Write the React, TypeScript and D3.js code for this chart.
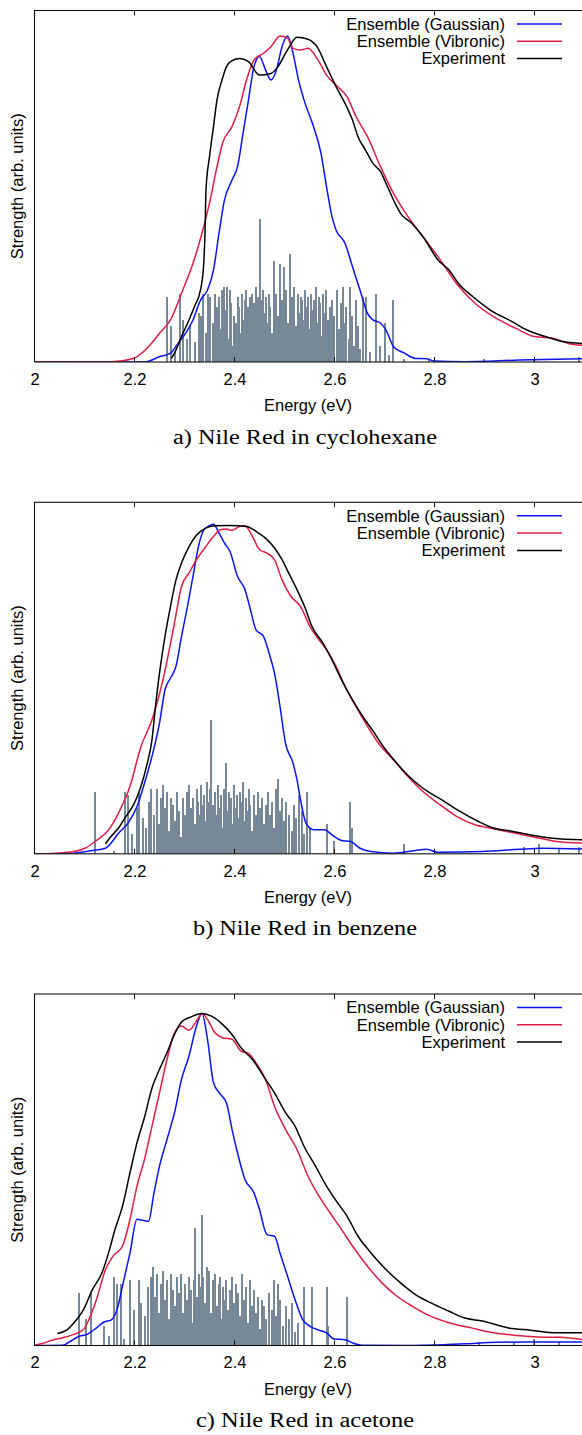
import React from "react";
import * as d3 from "d3";

// ---------- data ----------
const energyTicks = [2, 2.2, 2.4, 2.6, 2.8, 3];
const legendLabels = ["Ensemble (Gaussian)", "Ensemble (Vibronic)", "Experiment"];
const seriesColors = ["#0a14f0", "#dc1e46", "#000000"];
const captions = ["a) Nile Red in cyclohexane", "b) Nile Red in benzene", "c) Nile Red in acetone"];

type P = [number, number];

// Panel a: cyclohexane
const cycloGaussian: P[] = [
  [2.0, 0], [2.221, 0], [2.251, 0.016], [2.273, 0.027], [2.288, 0.057], [2.303, 0.088], [2.318, 0.129],
  [2.333, 0.19], [2.347, 0.221], [2.359, 0.282], [2.37, 0.395], [2.381, 0.497], [2.396, 0.558], [2.407, 0.599],
  [2.418, 0.701], [2.429, 0.804], [2.44, 0.906], [2.451, 0.937], [2.463, 0.896], [2.474, 0.865], [2.485, 0.896],
  [2.496, 0.967], [2.507, 1.0], [2.518, 0.947], [2.529, 0.865], [2.54, 0.804], [2.559, 0.722], [2.574, 0.64],
  [2.585, 0.538], [2.596, 0.446], [2.604, 0.405], [2.622, 0.364], [2.637, 0.292], [2.652, 0.221], [2.667, 0.149],
  [2.678, 0.129], [2.693, 0.119], [2.704, 0.098], [2.719, 0.047], [2.741, 0.027], [2.763, 0.011], [2.785, 0.01],
  [2.8, 0.003], [2.86, 0.001], [2.971, 0.006], [3.096, 0.01],
];
const cycloVibronic: P[] = [
  [2.0, 0], [2.154, 0.001], [2.199, 0.011], [2.229, 0.047], [2.251, 0.088], [2.273, 0.129], [2.295, 0.211],
  [2.318, 0.303], [2.336, 0.395], [2.351, 0.487], [2.366, 0.599], [2.377, 0.671], [2.396, 0.722], [2.411, 0.783],
  [2.425, 0.865], [2.44, 0.926], [2.459, 0.947], [2.474, 0.967], [2.492, 1.0], [2.507, 0.993], [2.518, 0.962],
  [2.533, 0.957], [2.548, 0.962], [2.566, 0.931], [2.585, 0.88], [2.607, 0.845], [2.626, 0.814], [2.644, 0.753],
  [2.667, 0.691], [2.693, 0.599], [2.719, 0.517], [2.748, 0.446], [2.778, 0.384], [2.808, 0.323], [2.845, 0.241],
  [2.882, 0.18], [2.919, 0.139], [2.964, 0.103], [3.001, 0.078], [3.038, 0.073], [3.068, 0.057], [3.096, 0.051],
];
const cycloExperiment: P[] = [
  [2.275, 0.011], [2.284, 0.037], [2.295, 0.078], [2.31, 0.129], [2.321, 0.17], [2.333, 0.221], [2.339, 0.292],
  [2.342, 0.395], [2.344, 0.528], [2.351, 0.63], [2.359, 0.722], [2.366, 0.804], [2.376, 0.865], [2.385, 0.906],
  [2.393, 0.921], [2.411, 0.931], [2.429, 0.921], [2.451, 0.88], [2.474, 0.885], [2.488, 0.906], [2.507, 0.957],
  [2.526, 0.996], [2.548, 0.99], [2.566, 0.967], [2.585, 0.906], [2.604, 0.845], [2.622, 0.793], [2.637, 0.742],
  [2.648, 0.691], [2.663, 0.65], [2.678, 0.609], [2.693, 0.584], [2.707, 0.538], [2.722, 0.487], [2.733, 0.456],
  [2.756, 0.425], [2.778, 0.384], [2.808, 0.313], [2.83, 0.282], [2.849, 0.241], [2.878, 0.2], [2.912, 0.16],
  [2.956, 0.124], [2.986, 0.098], [3.023, 0.078], [3.06, 0.062], [3.096, 0.057],
];
const cycloStickE = [
  2.266, 2.275, 2.283, 2.292, 2.298, 2.306, 2.312, 2.321, 2.329, 2.333, 2.339, 2.344, 2.348, 2.352, 2.357, 2.361,
  2.365, 2.369, 2.372, 2.376, 2.38, 2.383, 2.386, 2.389, 2.392, 2.395, 2.398, 2.401, 2.404, 2.407, 2.41, 2.413,
  2.416, 2.419, 2.422, 2.425, 2.428, 2.431, 2.434, 2.437, 2.44, 2.443, 2.446, 2.449, 2.452, 2.455, 2.458, 2.461,
  2.464, 2.467, 2.47, 2.473, 2.476, 2.479, 2.482, 2.485, 2.488, 2.492, 2.495, 2.499, 2.502, 2.505, 2.508, 2.512,
  2.515, 2.518, 2.521, 2.524, 2.527, 2.53, 2.533, 2.536, 2.539, 2.542, 2.545, 2.548, 2.551, 2.554, 2.557, 2.56,
  2.563, 2.566, 2.569, 2.572, 2.575, 2.578, 2.581, 2.584, 2.588, 2.591, 2.594, 2.597, 2.601, 2.605, 2.609, 2.613,
  2.617, 2.621, 2.625, 2.629, 2.632, 2.636, 2.64, 2.644, 2.648, 2.652, 2.657, 2.665, 2.672, 2.685, 2.692, 2.703,
  2.71, 2.717, 2.74, 2.79, 2.9, 3.0, 3.09,
];
const cycloStickH = [
  0.2, 0.11, 0.03, 0.21, 0.13, 0.07, 0.11, 0.06, 0.15, 0.14, 0.21, 0.09, 0.21, 0.2, 0.12, 0.21,
  0.17, 0.2, 0.1, 0.22, 0.23, 0.16, 0.23, 0.07, 0.22, 0.18, 0.05, 0.14, 0.12, 0.2, 0.17, 0.09,
  0.21, 0.13, 0.19, 0.22, 0.17, 0.2, 0.14, 0.21, 0.18, 0.23, 0.16, 0.2, 0.44, 0.19, 0.22, 0.15,
  0.2, 0.12, 0.21, 0.17, 0.09, 0.31, 0.18, 0.21, 0.14, 0.3, 0.19, 0.29, 0.16, 0.22, 0.12, 0.33,
  0.2, 0.17, 0.23, 0.11, 0.21, 0.15, 0.2, 0.19, 0.13, 0.22, 0.17, 0.2, 0.1, 0.21, 0.16, 0.19,
  0.23, 0.12, 0.2, 0.18, 0.08, 0.21, 0.15, 0.22, 0.13, 0.17, 0.06, 0.19, 0.14, 0.22, 0.1, 0.18,
  0.23, 0.12, 0.17, 0.07, 0.23, 0.14, 0.05, 0.19, 0.11, 0.04, 0.2, 0.2, 0.03, 0.21, 0.05, 0.12,
  0.02, 0.19, 0.01, 0.01, 0.01, 0.01, 0.015,
];

// Panel b: benzene
const benzGaussian: P[] = [
  [2.0, 0], [2.08, 0.002], [2.117, 0.01], [2.143, 0.017], [2.154, 0.033], [2.169, 0.063], [2.188, 0.094],
  [2.206, 0.145], [2.221, 0.217], [2.236, 0.299], [2.251, 0.401], [2.262, 0.503], [2.273, 0.539], [2.284, 0.575],
  [2.295, 0.667], [2.307, 0.759], [2.318, 0.851], [2.329, 0.943], [2.34, 0.994], [2.351, 1.006], [2.359, 1.011],
  [2.37, 0.984], [2.381, 0.953], [2.392, 0.927], [2.407, 0.851], [2.422, 0.81], [2.433, 0.748], [2.444, 0.687],
  [2.459, 0.667], [2.47, 0.616], [2.481, 0.554], [2.492, 0.452], [2.503, 0.339], [2.518, 0.278], [2.526, 0.227],
  [2.533, 0.166], [2.544, 0.094], [2.559, 0.074], [2.581, 0.074], [2.596, 0.058], [2.615, 0.041], [2.633, 0.038],
  [2.652, 0.017], [2.674, 0.007], [2.719, 0.002], [2.763, 0.01], [2.785, 0.014], [2.808, 0.005], [2.897, 0.007],
  [2.971, 0.014], [3.016, 0.017], [3.096, 0.015],
];
const benzVibronic: P[] = [
  [2.0, 0], [2.043, 0.002], [2.08, 0.007], [2.102, 0.017], [2.125, 0.041], [2.147, 0.069], [2.169, 0.125],
  [2.192, 0.207], [2.214, 0.329], [2.236, 0.411], [2.258, 0.534], [2.281, 0.708], [2.295, 0.82], [2.31, 0.861],
  [2.325, 0.902], [2.344, 0.943], [2.359, 0.973], [2.373, 0.994], [2.385, 0.996], [2.396, 0.992], [2.411, 1.004],
  [2.422, 1.006], [2.437, 0.973], [2.451, 0.933], [2.466, 0.922], [2.481, 0.902], [2.496, 0.84], [2.514, 0.789],
  [2.533, 0.759], [2.552, 0.697], [2.57, 0.656], [2.585, 0.626], [2.604, 0.575], [2.622, 0.513], [2.644, 0.452],
  [2.667, 0.391], [2.689, 0.339], [2.719, 0.288], [2.748, 0.237], [2.778, 0.191], [2.808, 0.155], [2.845, 0.115],
  [2.882, 0.089], [2.919, 0.077], [2.956, 0.065], [3.001, 0.051], [3.045, 0.038], [3.096, 0.033],
];
const benzExperiment: P[] = [
  [2.143, 0.031], [2.154, 0.053], [2.169, 0.079], [2.184, 0.115], [2.199, 0.15], [2.214, 0.207], [2.225, 0.268],
  [2.236, 0.35], [2.243, 0.452], [2.251, 0.554], [2.262, 0.667], [2.273, 0.759], [2.284, 0.84], [2.295, 0.892],
  [2.307, 0.933], [2.318, 0.963], [2.333, 0.989], [2.347, 1.001], [2.362, 1.006], [2.392, 1.007], [2.425, 1.004],
  [2.444, 0.989], [2.463, 0.968], [2.481, 0.938], [2.496, 0.902], [2.511, 0.856], [2.526, 0.81], [2.541, 0.759],
  [2.556, 0.697], [2.578, 0.646], [2.596, 0.595], [2.615, 0.534], [2.637, 0.472], [2.659, 0.418], [2.682, 0.368],
  [2.696, 0.335], [2.719, 0.29], [2.748, 0.24], [2.778, 0.201], [2.815, 0.166], [2.852, 0.13], [2.889, 0.099],
  [2.919, 0.079], [2.956, 0.069], [2.993, 0.058], [3.038, 0.048], [3.096, 0.043],
];
const benzStickE = [
  2.121, 2.16, 2.182, 2.188, 2.196, 2.205, 2.21, 2.218, 2.224, 2.23, 2.235, 2.24, 2.245, 2.25, 2.255, 2.259,
  2.263, 2.267, 2.271, 2.275, 2.279, 2.283, 2.287, 2.291, 2.295, 2.299, 2.303, 2.307, 2.311, 2.314, 2.318, 2.321,
  2.325, 2.328, 2.331, 2.334, 2.337, 2.34, 2.343, 2.346, 2.349, 2.352, 2.355, 2.358, 2.361, 2.364, 2.367, 2.37,
  2.373, 2.376, 2.379, 2.382, 2.385, 2.388, 2.391, 2.394, 2.397, 2.4, 2.403, 2.406, 2.409, 2.412, 2.415, 2.418,
  2.421, 2.424, 2.427, 2.43, 2.433, 2.436, 2.44, 2.444, 2.448, 2.452, 2.456, 2.46, 2.464, 2.468, 2.472, 2.476,
  2.48, 2.484, 2.488, 2.492, 2.496, 2.5, 2.505, 2.51, 2.515, 2.52, 2.525, 2.53, 2.535, 2.54, 2.546, 2.552,
  2.585, 2.6, 2.632, 2.636, 2.74, 2.98, 3.01, 3.05, 3.09,
];
const benzStickH = [
  0.19, 0.01, 0.19, 0.18, 0.06, 0.14, 0.19, 0.11, 0.08, 0.16, 0.2, 0.12, 0.2, 0.09, 0.17, 0.21,
  0.14, 0.19, 0.07, 0.17, 0.15, 0.1, 0.19, 0.13, 0.05, 0.17, 0.12, 0.19, 0.21, 0.14, 0.17, 0.09,
  0.2, 0.16, 0.12, 0.21, 0.15, 0.18, 0.1, 0.22, 0.16, 0.2, 0.41, 0.15, 0.19, 0.12, 0.21, 0.14,
  0.18, 0.08, 0.2, 0.16, 0.28, 0.13, 0.19, 0.17, 0.09, 0.21, 0.14, 0.18, 0.11, 0.19, 0.16, 0.22,
  0.1, 0.17, 0.13, 0.2, 0.15, 0.07, 0.18, 0.12, 0.19, 0.14, 0.17, 0.09, 0.15, 0.19, 0.12, 0.16,
  0.08, 0.2, 0.23, 0.13, 0.17, 0.1, 0.16, 0.12, 0.07, 0.15, 0.11, 0.18, 0.13, 0.06, 0.19, 0.08,
  0.09, 0.04, 0.16, 0.08, 0.03, 0.02, 0.03, 0.015, 0.02,
];

// Panel c: acetone
const acetGaussian: P[] = [
  [2.0, 0], [2.058, 0.001], [2.073, 0.013], [2.088, 0.027], [2.106, 0.034], [2.125, 0.054], [2.14, 0.072],
  [2.154, 0.078], [2.166, 0.11], [2.177, 0.182], [2.192, 0.284], [2.206, 0.387], [2.218, 0.384], [2.229, 0.381],
  [2.24, 0.468], [2.251, 0.55], [2.266, 0.632], [2.281, 0.714], [2.295, 0.816], [2.31, 0.888], [2.325, 0.98],
  [2.336, 1.018], [2.347, 0.939], [2.359, 0.806], [2.373, 0.77], [2.385, 0.744], [2.396, 0.663], [2.407, 0.591],
  [2.422, 0.509], [2.44, 0.468], [2.451, 0.417], [2.466, 0.34], [2.481, 0.335], [2.492, 0.284], [2.507, 0.213],
  [2.522, 0.141], [2.537, 0.08], [2.552, 0.059], [2.566, 0.049], [2.585, 0.039], [2.6, 0.02], [2.622, 0.018],
  [2.637, 0.008], [2.656, 0.001], [2.748, 0], [2.86, 0.005], [2.926, 0.01], [3.008, 0.011], [3.096, 0.011],
];
const acetVibronic: P[] = [
  [2.0, 0], [2.017, 0.006], [2.036, 0.016], [2.058, 0.024], [2.08, 0.034], [2.099, 0.049], [2.11, 0.08],
  [2.125, 0.141], [2.143, 0.233], [2.158, 0.274], [2.177, 0.305], [2.192, 0.387], [2.206, 0.489], [2.221, 0.571],
  [2.236, 0.673], [2.251, 0.775], [2.266, 0.877], [2.281, 0.959], [2.295, 0.98], [2.31, 0.967], [2.325, 0.995],
  [2.336, 1.018], [2.347, 1.0], [2.362, 0.959], [2.377, 0.944], [2.396, 0.939], [2.414, 0.903], [2.429, 0.896],
  [2.444, 0.867], [2.463, 0.816], [2.481, 0.734], [2.503, 0.663], [2.526, 0.601], [2.548, 0.519], [2.57, 0.458],
  [2.592, 0.407], [2.615, 0.356], [2.637, 0.305], [2.667, 0.243], [2.696, 0.192], [2.726, 0.151], [2.756, 0.121],
  [2.793, 0.09], [2.83, 0.07], [2.875, 0.054], [2.919, 0.039], [2.964, 0.031], [3.008, 0.026], [3.053, 0.025],
  [3.096, 0.018],
];
const acetExperiment: P[] = [
  [2.047, 0.037], [2.065, 0.047], [2.08, 0.07], [2.099, 0.11], [2.117, 0.172], [2.136, 0.223], [2.151, 0.294],
  [2.162, 0.356], [2.177, 0.427], [2.192, 0.53], [2.206, 0.622], [2.221, 0.7], [2.236, 0.79], [2.251, 0.847],
  [2.266, 0.898], [2.281, 0.954], [2.295, 0.992], [2.314, 1.008], [2.336, 1.018], [2.355, 1.01], [2.377, 0.985],
  [2.396, 0.954], [2.414, 0.913], [2.437, 0.877], [2.459, 0.826], [2.481, 0.775], [2.503, 0.714], [2.522, 0.673],
  [2.54, 0.611], [2.563, 0.55], [2.585, 0.489], [2.607, 0.438], [2.626, 0.397], [2.648, 0.335], [2.674, 0.284],
  [2.704, 0.233], [2.733, 0.192], [2.763, 0.156], [2.8, 0.126], [2.83, 0.105], [2.86, 0.085], [2.897, 0.075],
  [2.949, 0.054], [2.993, 0.047], [3.045, 0.039], [3.096, 0.039],
];
const acetStickE = [
  2.09, 2.103, 2.113, 2.14, 2.15, 2.16, 2.167, 2.173, 2.18, 2.192, 2.2, 2.209, 2.215, 2.222, 2.228, 2.233,
  2.238, 2.242, 2.246, 2.25, 2.254, 2.258, 2.262, 2.266, 2.27, 2.274, 2.278, 2.282, 2.286, 2.29, 2.294, 2.298,
  2.302, 2.306, 2.31, 2.313, 2.316, 2.32, 2.323, 2.326, 2.329, 2.332, 2.336, 2.339, 2.342, 2.345, 2.348, 2.351,
  2.354, 2.357, 2.36, 2.363, 2.366, 2.369, 2.372, 2.375, 2.378, 2.381, 2.384, 2.388, 2.392, 2.396, 2.4, 2.404,
  2.408, 2.412, 2.416, 2.42, 2.424, 2.428, 2.432, 2.436, 2.44, 2.444, 2.448, 2.452, 2.456, 2.46, 2.465, 2.47,
  2.475, 2.48, 2.484, 2.488, 2.493, 2.498, 2.504, 2.51, 2.516, 2.522, 2.528, 2.54, 2.557, 2.585, 2.588, 2.627,
  2.89, 2.96, 3.0, 3.05,
];
const acetStickH = [
  0.16, 0.08, 0.16, 0.06, 0.03, 0.21, 0.19, 0.19, 0.02, 0.2, 0.11, 0.2, 0.13, 0.09, 0.18, 0.21,
  0.24, 0.15, 0.22, 0.1, 0.19, 0.23, 0.14, 0.2, 0.08, 0.22, 0.17, 0.12, 0.21, 0.16, 0.22, 0.1,
  0.19, 0.14, 0.21, 0.17, 0.07, 0.2, 0.36, 0.15, 0.22, 0.18, 0.4, 0.21, 0.13, 0.24, 0.17, 0.23,
  0.1, 0.2, 0.15, 0.22, 0.12, 0.19, 0.21, 0.08, 0.18, 0.14, 0.2, 0.11, 0.17, 0.21, 0.13, 0.19,
  0.16, 0.09, 0.22, 0.14, 0.18, 0.07, 0.2, 0.12, 0.17, 0.1, 0.15, 0.05, 0.14, 0.12, 0.08, 0.16,
  0.11, 0.2, 0.09, 0.19, 0.14, 0.06, 0.12, 0.08, 0.13, 0.04, 0.07, 0.18, 0.18, 0.18, 0.06, 0.15,
  0.01, 0.01, 0.02, 0.01,
];

const panels = [
  { series: [cycloGaussian, cycloVibronic, cycloExperiment], stickE: cycloStickE, stickH: cycloStickH, caption: captions[0] },
  { series: [benzGaussian, benzVibronic, benzExperiment], stickE: benzStickE, stickH: benzStickH, caption: captions[1] },
  { series: [acetGaussian, acetVibronic, acetExperiment], stickE: acetStickE, stickH: acetStickH, caption: captions[2] },
];

// ---------- layout ----------
const W = 582;
const H = 1435;
const LEFT = 34;
const RIGHT = 584;
const PLOT_H = 351.5;
const panelTops = [10.5, 502.3, 994];
const captionLengths = [264, 224, 218];
const SANS = "'Liberation Sans', Arial, Helvetica, sans-serif";
const SERIF = "'Liberation Serif', 'Times New Roman', serif";

const x = d3.scaleLinear().domain([2, 3.1]).range([LEFT, RIGHT]);

function Panel({ idx }: { idx: number }) {
  const p = panels[idx];
  const top = panelTops[idx];
  const bottom = top + PLOT_H;
  const y = d3.scaleLinear().domain([0, 1.078]).range([bottom, top]);
  const line = d3
    .line<P>()
    .x((d) => x(d[0]))
    .y((d) => y(d[1]))
    .curve(d3.curveMonotoneX);
  const clipId = `clip${idx}`;
  return (
    <g>
      <defs>
        <clipPath id={clipId}>
          <rect x={LEFT} y={top} width={RIGHT - LEFT} height={PLOT_H} />
        </clipPath>
      </defs>
      <g clipPath={`url(#${clipId})`}>
        <g shapeRendering="crispEdges">
          {p.stickE.map((e, i) => (
            <line
              key={i}
              x1={Math.round(x(e))}
              x2={Math.round(x(e))}
              y1={y(0)}
              y2={y(p.stickH[i])}
              stroke="#778899"
              strokeWidth={1.6}
            />
          ))}
        </g>
        {p.series.map((s, i) => (
          <path key={i} d={line(s) || ""} fill="none" stroke={seriesColors[i]} strokeWidth={1.5} />
        ))}
      </g>
      {/* frame */}
      <rect x={LEFT + 0.5} y={top} width={RIGHT - LEFT} height={PLOT_H} fill="none" stroke="#111" strokeWidth={1.1} />
      {energyTicks.map((t) => (
        <g key={t}>
          <line x1={x(t) + 0.5} x2={x(t) + 0.5} y1={bottom} y2={bottom - 5} stroke="#111" strokeWidth={1} />
          <line x1={x(t) + 0.5} x2={x(t) + 0.5} y1={top} y2={top + 5} stroke="#111" strokeWidth={1} />
          <text x={x(t) + 1} y={bottom + 22.7} textAnchor="middle" fontFamily={SANS} fontSize={16.5} fill="#000">
            {d3.format("")(t)}
          </text>
        </g>
      ))}
      <text x={(LEFT + RIGHT) / 2 - 1} y={bottom + 49} textAnchor="middle" fontFamily={SANS} fontSize={16.5} fill="#000">
        Energy (eV)
      </text>
      <text
        transform={`translate(23, ${(top + bottom) / 2}) rotate(-90)`}
        textAnchor="middle"
        fontFamily={SANS}
        fontSize={16.5}
        fill="#000"
      >
        Strength (arb. units)
      </text>
      {legendLabels.map((l, i) => (
        <g key={l}>
          <text
            x={505}
            y={top + 13.5 + i * 17.3 + 5.8}
            textAnchor="end"
            fontFamily={SANS}
            fontSize={16.5}
            fill="#000"
          >
            {l}
          </text>
          <line
            x1={517}
            x2={562}
            y1={top + 13.5 + i * 17.3}
            y2={top + 13.5 + i * 17.3}
            stroke={seriesColors[i]}
            strokeWidth={1.5}
          />
        </g>
      ))}
      <text
        x={305}
        y={bottom + 81.5}
        textAnchor="middle"
        fontFamily={SERIF}
        fontSize={20}
        textLength={captionLengths[idx]}
        lengthAdjust="spacingAndGlyphs"
        fill="#000"
      >
        {p.caption}
      </text>
    </g>
  );
}

export default function App() {
  return (
    <svg
      width={W}
      height={H}
      viewBox={`0 0 ${W} ${H}`}
      style={{ position: "absolute", left: 0, top: 0, background: "#fff" }}
    >
      <rect x={0} y={0} width={W} height={H} fill="#fff" />
      {panels.map((_, i) => (
        <Panel key={i} idx={i} />
      ))}
    </svg>
  );
}
